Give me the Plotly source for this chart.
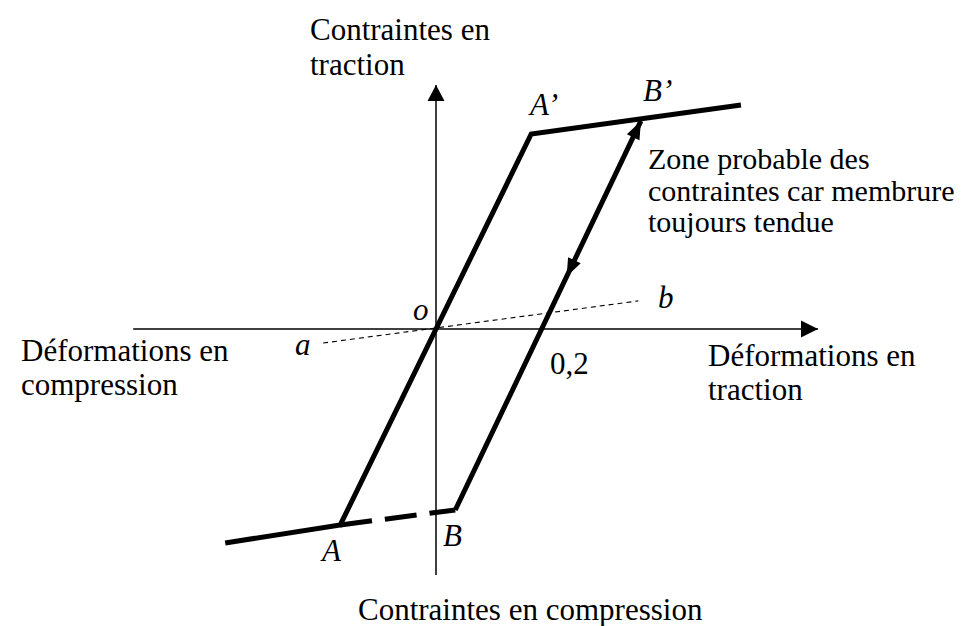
import plotly.graph_objects as go

W, H = 973, 626

# ---- data (strain on x, stress on y, relative units) ----
strain_axis = [-0.566, 0.714]
stress_axis = [-1.262, 1.251]

# compression plateau -> A -> A' -> tension plateau
branch1_strain = [-0.394, -0.179, 0.178, 0.570]
branch1_stress = [-1.097, -1.005, 1.000, 1.149]
# A -> B (dashed)
dashed_strain = [-0.179, 0.036]
dashed_stress = [-1.005, -0.928]
# B -> B'
branch2_strain = [0.036, 0.383]
branch2_stress = [-0.928, 1.067]
# elastic reference line a-b
ab_strain = [-0.211, 0.378]
ab_stress = [-0.072, 0.144]
residual_strain = 0.2
down_arrow_frac = 0.6

# ---- view ----
XR = [-0.8, 545 / 535]
YR = [(321 - 626) / 195, 321 / 195]


def to_px(x, y):
    return ((x - XR[0]) / (XR[1] - XR[0]) * W, (YR[1] - y) / (YR[1] - YR[0]) * H)


def to_data(px, py):
    return (XR[0] + px / W * (XR[1] - XR[0]), YR[1] - py / H * (YR[1] - YR[0]))


def arrowhead(tip, tail, length, width):
    tx, ty = to_px(*tip)
    bx, by = to_px(*tail)
    dx, dy = tx - bx, ty - by
    n = (dx * dx + dy * dy) ** 0.5
    ux, uy = dx / n, dy / n
    cx, cy = tx - ux * length, ty - uy * length
    nx, ny = -uy, ux
    pts = [(tx, ty), (cx + nx * width / 2, cy + ny * width / 2),
           (cx - nx * width / 2, cy - ny * width / 2), (tx, ty)]
    d = [to_data(*p) for p in pts]
    return [p[0] for p in d], [p[1] for p in d]


fig = go.Figure()


def line(xs, ys, width, dash=None):
    fig.add_trace(go.Scatter(x=xs, y=ys, mode="lines",
                             line=dict(color="black", width=width, dash=dash),
                             hoverinfo="skip", showlegend=False))


def tri(xs, ys):
    fig.add_trace(go.Scatter(x=xs, y=ys, mode="lines", fill="toself",
                             fillcolor="black", line=dict(width=0, color="black"),
                             hoverinfo="skip", showlegend=False))


# axes
line(strain_axis, [0, 0], 1.5)
line([0, 0], stress_axis, 1.5)
tri(*arrowhead((strain_axis[1], 0), (strain_axis[0], 0), 17, 17))
tri(*arrowhead((0, stress_axis[1]), (0, stress_axis[0]), 16, 17))

# reference line a-b
line(ab_strain, ab_stress, 1.1, "5px,4px")

# hysteresis
line(branch1_strain, branch1_stress, 5)
line(dashed_strain, dashed_stress, 5, "32px,13px")
line(branch2_strain, branch2_stress, 5)

# arrows on B-B'
bx0, by0 = branch2_strain[0], branch2_stress[0]
bx1, by1 = branch2_strain[1], branch2_stress[1]
tri(*arrowhead((bx1, by1), (bx0, by0), 18, 14))
mx = bx0 + down_arrow_frac * (bx1 - bx0)
my = by0 + down_arrow_frac * (by1 - by0)
tri(*arrowhead((mx, my), (bx1, by1), 18, 14))

FS = 31
FONT = "Liberation Serif"


def text(s, left, baseline, size=FS):
    fig.add_annotation(x=(left - 2) / W, y=1 - (baseline - 0.34 * size) / H,
                       xref="paper", yref="paper", xanchor="left", yanchor="middle",
                       text=s, showarrow=False,
                       font=dict(family=FONT, size=size, color="black"))


text("Contraintes en", 302, 32)
text("traction", 302, 67)
text("Déformations en", 13, 353)
text("compression", 13, 387)
text("Déformations en", 700, 358)
text("traction", 700, 392)
text("Zone probable des", 640, 161, 30)
text("contraintes car membrure", 640, 193, 30)
text("toujours tendue", 640, 224, 30)
text("Contraintes en compression", 350, 612)

text("<i>A’</i>", 520, 107)
text("<i>B’</i>", 635, 93)
text("<i>o</i>", 405, 312)
text("<i>a</i>", 287, 347)
text("<i>b</i>", 650, 300)
text("0,2", 542, 366)
text("<i>A</i>", 312, 553)
text("<i>B</i>", 435, 538)

fig.update_layout(width=W, height=H, autosize=False,
                  margin=dict(l=0, r=0, t=0, b=0, pad=0),
                  paper_bgcolor="white", plot_bgcolor="white",
                  xaxis=dict(range=XR, visible=False, fixedrange=True),
                  yaxis=dict(range=YR, visible=False, fixedrange=True))

fig.write_html("out.html")
